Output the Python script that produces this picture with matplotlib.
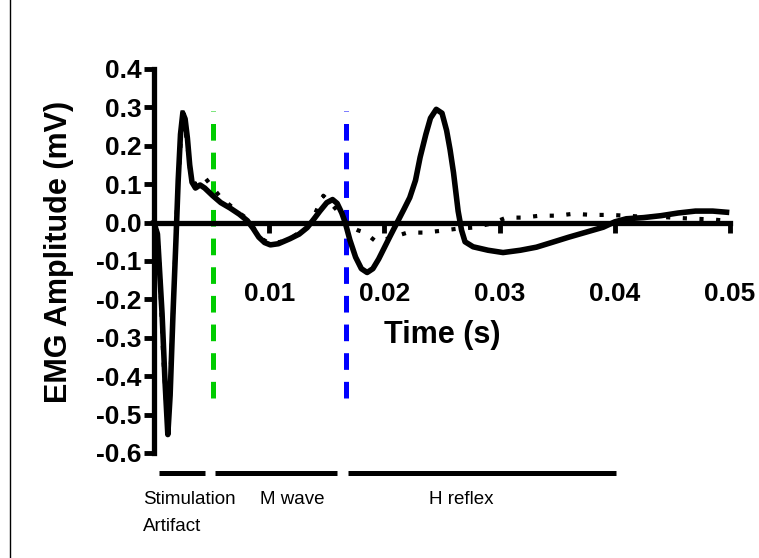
import matplotlib
matplotlib.use('Agg')
import matplotlib.pyplot as plt
from matplotlib.lines import Line2D

plt.rcParams['font.family'] = ['Liberation Sans', 'DejaVu Sans']
plt.rcParams['axes.unicode_minus'] = False

# trace 1 (solid)
t1 = [0.0000, 0.0003, 0.0007, 0.00095, 0.0012, 0.0014, 0.00165, 0.0019, 0.0021, 0.0023,
      0.0025, 0.0027, 0.0029, 0.0031, 0.0033, 0.0036, 0.0040, 0.0044, 0.0051, 0.0058,
      0.0066, 0.0074, 0.0081, 0.0086, 0.0091, 0.0096, 0.0101, 0.0108, 0.0118, 0.0126,
      0.0133, 0.0139, 0.0144, 0.0150, 0.0155, 0.0159, 0.0163, 0.0166, 0.0170, 0.0175,
      0.0180, 0.0185, 0.0190, 0.0195, 0.0200, 0.0205, 0.0211, 0.0217, 0.0222, 0.0227,
      0.0231, 0.0236, 0.0240, 0.0245, 0.0250, 0.0254, 0.0257, 0.0260, 0.0264, 0.0267,
      0.0270, 0.0277, 0.0290, 0.0303, 0.0318, 0.0332, 0.0345, 0.0360, 0.0375, 0.0390,
      0.0400, 0.0410, 0.0425, 0.0440, 0.0455, 0.0470, 0.0485, 0.0497]
v1 = [0.000, -0.030, -0.237, -0.410, -0.552, -0.450, -0.237, -0.050, 0.110, 0.230,
      0.285, 0.270, 0.220, 0.150, 0.105, 0.090, 0.098, 0.090, 0.070, 0.052,
      0.038, 0.022, 0.005, -0.015, -0.038, -0.052, -0.058, -0.055, -0.042, -0.030,
      -0.013, 0.010, 0.030, 0.052, 0.060, 0.050, 0.025, 0.000, -0.045, -0.090,
      -0.120, -0.130, -0.120, -0.095, -0.065, -0.035, 0.000, 0.035, 0.065, 0.110,
      0.170, 0.230, 0.272, 0.295, 0.285, 0.240, 0.190, 0.130, 0.030, -0.020,
      -0.050, -0.063, -0.072, -0.078, -0.072, -0.064, -0.052, -0.038, -0.025, -0.012,
      0.002, 0.010, 0.013, 0.018, 0.025, 0.030, 0.030, 0.027]

# trace 2 (dotted)
t2 = [0.0000, 0.0004, 0.0008, 0.0012, 0.0016, 0.0020, 0.0025, 0.0029, 0.0032, 0.0036,
      0.0040, 0.0044, 0.0050, 0.0058, 0.0066, 0.0074, 0.0081, 0.0088, 0.0095, 0.0101,
      0.0110, 0.0120, 0.0130, 0.0138, 0.0143, 0.0147, 0.0152, 0.0158, 0.0164, 0.0170,
      0.0177, 0.0183, 0.0193, 0.0205, 0.0220, 0.0235, 0.0250, 0.0263, 0.0277, 0.0292,
      0.0306, 0.0320, 0.0335, 0.0350, 0.0364, 0.0380, 0.0395, 0.0410, 0.0425, 0.0440,
      0.0455, 0.0470, 0.0485, 0.0497]
v2 = [0.025, -0.050, -0.350, -0.540, -0.280, 0.050, 0.300, 0.200, 0.120, 0.100,
      0.115, 0.118, 0.095, 0.065, 0.045, 0.025, 0.010, -0.020, -0.045, -0.055,
      -0.050, -0.038, -0.018, 0.010, 0.045, 0.070, 0.055, 0.035, 0.010, -0.010,
      -0.020, -0.026, -0.050, -0.040, -0.026, -0.026, -0.021, -0.016, -0.013, -0.003,
      0.013, 0.013, 0.018, 0.018, 0.023, 0.020, 0.020, 0.018, 0.015, 0.015,
      0.012, 0.010, 0.008, 0.005]

# window markers
green_t = 0.0051
blue_t = 0.0167
seg_start = [0.0004, 0.0053, 0.0168]
seg_end = [0.0044, 0.0159, 0.0401]
seg_names = ['Stimulation', 'M wave', 'H reflex']
name_x = [-0.00095, 0.0092, 0.0239]

yticks = [-0.6, -0.5, -0.4, -0.3, -0.2, -0.1, 0.0, 0.1, 0.2, 0.3, 0.4]
ytick_labels = ['-0.6', '-0.5', '-0.4', '-0.3', '-0.2', '-0.1', '0.0', '0.1', '0.2', '0.3', '0.4']
xticks = [0.01, 0.02, 0.03, 0.04, 0.05]
xtick_labels = ['0.01', '0.02', '0.03', '0.04', '0.05']

W, H = 759, 558
fig = plt.figure(figsize=(W / 100, H / 100), dpi=100)
ax = fig.add_axes([154 / W, (H - 453) / H, 576 / W, 384 / H])
ax.patch.set_visible(False)

ax.set_xlim(0, 0.05)
ax.set_ylim(-0.6, 0.4)

for s in ['top', 'right']:
    ax.spines[s].set_visible(False)
ax.spines['bottom'].set_position(('data', 0))
ax.spines['bottom'].set_bounds(0, 0.05)
ax.spines['left'].set_bounds(-0.6, 0.4)
for s in ['bottom', 'left']:
    ax.spines[s].set_linewidth(3.8)
    ax.spines[s].set_capstyle('projecting')

ax.set_yticks(yticks)
ax.set_yticklabels(ytick_labels)
ax.set_xticks(xticks)
ax.set_xticklabels(xtick_labels)
ax.tick_params(axis='y', direction='out', length=7, width=3.5, pad=2,
               labelsize=19)
ax.tick_params(axis='x', direction='out', length=7, width=3.5, pad=36,
               labelsize=19)
for lab in ax.get_xticklabels() + ax.get_yticklabels():
    lab.set_fontweight('bold')

# dashed window lines
ax.plot([green_t, green_t], [-0.456, 0.29], color='#00cc00', lw=3.6,
        dashes=(3.33, 2.4), clip_on=False)
ax.plot([blue_t, blue_t], [-0.456, 0.29], color='#0000ff', lw=3.6,
        dashes=(3.33, 2.4), clip_on=False)

# traces
ax.plot(t2, v2, color='black', lw=3, dashes=(1, 3), clip_on=False)
ax.plot(t1, v1, color='black', lw=4, solid_joinstyle='round', clip_on=False)

# window bars and names
for a, b in zip(seg_start, seg_end):
    ax.plot([a, b], [-0.651, -0.651], color='black', lw=3.6,
            solid_capstyle='butt', clip_on=False)
for nx, name in zip(name_x, seg_names):
    ax.text(nx, -0.721, name, fontsize=13.5, ha='left', va='center')
ax.text(name_x[0], -0.792, 'Artifact', fontsize=13.5, ha='left', va='center')

fig.text(59 / W, 1 - 252 / H, 'EMG Amplitude (mV)', rotation=90,
         fontsize=22, fontweight='bold', ha='center', va='center')
fig.text(442 / W, 1 - 335 / H, 'Time (s)', fontsize=22, fontweight='bold',
         ha='center', va='center')

fig.add_artist(Line2D([10 / W, 10 / W], [0, 1], color='black', lw=1))

fig.savefig('out.png', dpi=100)
